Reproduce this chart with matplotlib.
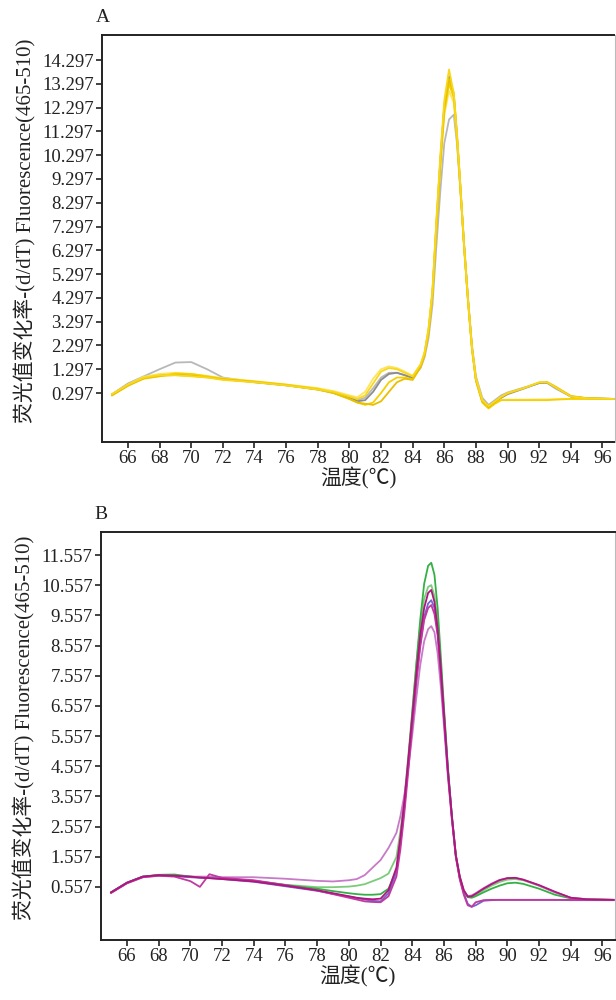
import matplotlib
matplotlib.use("Agg")
import matplotlib.pyplot as plt

plt.rcParams['font.family'] = ['Liberation Serif', 'Noto Sans CJK SC', 'DejaVu Sans']
plt.rcParams['axes.unicode_minus'] = False

# ---------------- Panel A data ----------------
TA = [65, 66, 67, 68, 69, 70, 71, 72, 74, 76, 78, 79, 80,
      80.5, 81, 81.5, 82, 82.5, 83, 83.5, 84,
      84.5, 84.75, 85, 85.25, 85.5, 85.75, 86,
      86.3, 86.6, 86.8, 87, 87.25, 87.5, 87.75, 88,
      88.4, 88.8, 89.2, 89.6, 90,
      91, 92, 92.5, 93, 94, 95, 96.7]

A1 = [0.25, 0.65, 0.95, 1.05, 1.05, 1.0, 0.95, 0.85, 0.75, 0.62, 0.45, 0.35, 0.15,
      0.05, 0.2, 0.7, 1.2, 1.35, 1.3, 1.15, 1.0,
      1.5, 2.0, 3.0, 4.6, 7.6, 10.3, 12.6,
      13.9, 12.9, 11.2, 9.2, 6.5, 4.2, 2.2, 0.9,
      0.0, -0.25, -0.05, 0.15, 0.3,
      0.5, 0.75, 0.75, 0.55, 0.15, 0.08, 0.05]
A2 = [0.22, 0.62, 0.9, 1.0, 1.12, 1.1, 1.0, 0.9, 0.78, 0.65, 0.48, 0.3, 0.05,
      -0.1, -0.2, -0.1, 0.3, 0.75, 0.95, 0.95, 0.88,
      1.4, 1.9, 2.8, 4.4, 7.2, 9.8, 12.1,
      13.3, 12.7, 11.0, 9.0, 6.4, 4.1, 2.1, 0.8,
      -0.1, -0.35, -0.15, 0.0, 0.0,
      0.0, 0.0, 0.0, 0.02, 0.05, 0.05, 0.05]
A3 = [0.25, 0.7, 1.0, 1.3, 1.58, 1.6, 1.3, 0.95, 0.75, 0.62, 0.45, 0.3, 0.1,
      0.0, 0.1, 0.5, 0.95, 1.15, 1.15, 1.05, 0.95,
      1.35, 1.8, 2.6, 4.0, 6.5, 8.8, 10.8,
      11.8, 12.0, 10.8, 9.0, 6.6, 4.3, 2.3, 1.0,
      0.1, -0.2, 0.0, 0.2, 0.32,
      0.52, 0.72, 0.72, 0.5, 0.15, 0.08, 0.05]
A4 = [0.24, 0.66, 0.95, 1.05, 1.1, 1.05, 0.98, 0.88, 0.76, 0.63, 0.46, 0.33, 0.1,
      -0.05, 0.0, 0.35, 0.85, 1.1, 1.15, 1.05, 0.92,
      1.45, 1.95, 2.9, 4.5, 7.4, 10.1, 12.4,
      13.6, 12.8, 11.1, 9.1, 6.5, 4.2, 2.2, 0.85,
      -0.05, -0.3, -0.1, 0.1, 0.25,
      0.48, 0.72, 0.74, 0.55, 0.15, 0.08, 0.05]
A5 = [0.2, 0.6, 0.92, 1.02, 1.05, 1.02, 0.96, 0.88, 0.77, 0.63, 0.44, 0.3, 0.05,
      -0.1, -0.15, -0.2, -0.05, 0.35, 0.75, 0.9, 0.85,
      1.4, 1.9, 2.85, 4.45, 7.3, 10.0, 12.3,
      13.5, 12.9, 11.2, 9.2, 6.5, 4.2, 2.2, 0.85,
      -0.05, -0.3, -0.1, 0.12, 0.28,
      0.5, 0.74, 0.76, 0.58, 0.18, 0.08, 0.05]
A6 = [0.25, 0.66, 0.98, 1.1, 1.15, 1.1, 1.02, 0.92, 0.8, 0.66, 0.5, 0.38, 0.2,
      0.12, 0.35, 0.9, 1.3, 1.42, 1.35, 1.2, 1.02,
      1.5, 2.0, 3.0, 4.6, 7.5, 10.0, 12.0,
      13.0, 12.5, 11.0, 9.1, 6.5, 4.2, 2.2, 0.9,
      0.0, -0.3, -0.1, 0.0, 0.02,
      0.02, 0.03, 0.03, 0.04, 0.05, 0.05, 0.05]

A_series = [A3, A4, A6, A2, A5, A1]
A_colors = ['#B8B8B8', '#8C8C8C', '#FFE45C', '#F5D000', '#E8C000', '#F8D81A']
A_ticks = [0.297 + k for k in range(15)]

# ---------------- Panel B data ----------------
TB = [65, 66, 67, 68, 69, 70, 70.6, 71.2, 72, 74, 76, 78, 79, 80,
      80.5, 81, 81.5, 82, 82.5, 83,
      83.25, 83.5, 83.75, 84, 84.25, 84.5, 84.75, 85,
      85.2, 85.4, 85.6, 85.8, 86,
      86.25, 86.5, 86.75, 87, 87.25, 87.5, 87.75, 88,
      88.5, 89, 89.5, 90, 90.5, 91,
      92, 93, 94, 95, 96.7]

B1 = [0.38, 0.7, 0.9, 0.95, 0.93, 0.9, 0.87, 0.85, 0.82, 0.74, 0.6, 0.45, 0.35, 0.25,
      0.2, 0.17, 0.15, 0.17, 0.45, 1.2,
      2.2, 3.4, 4.8, 6.2, 7.6, 8.9, 9.8, 10.3,
      10.4, 10.0, 9.1, 7.8, 6.3,
      4.4, 2.9, 1.6, 0.9, 0.45, 0.24, 0.25, 0.33,
      0.5, 0.65, 0.78, 0.85, 0.86, 0.8,
      0.62, 0.4, 0.2, 0.15, 0.13]
B2 = [0.38, 0.7, 0.9, 0.96, 0.97, 0.9, 0.88, 0.86, 0.84, 0.76, 0.62, 0.5, 0.42, 0.35,
      0.32, 0.3, 0.3, 0.32, 0.5, 1.1,
      2.0, 3.2, 4.7, 6.3, 7.9, 9.4, 10.6, 11.2,
      11.3, 10.9, 9.8, 8.2, 6.5,
      4.5, 2.9, 1.6, 0.85, 0.4, 0.22, 0.2, 0.25,
      0.38, 0.5, 0.6, 0.68, 0.7, 0.66,
      0.5, 0.3, 0.18, 0.14, 0.13]
B3 = [0.37, 0.69, 0.9, 0.95, 0.94, 0.9, 0.88, 0.86, 0.84, 0.76, 0.63, 0.55, 0.55, 0.57,
      0.6, 0.65, 0.75, 0.85, 1.0, 1.55,
      2.4, 3.5, 4.9, 6.4, 7.9, 9.2, 10.1, 10.5,
      10.56, 10.2, 9.3, 7.9, 6.4,
      4.5, 2.9, 1.6, 0.9, 0.45, 0.24, 0.22, 0.28,
      0.45, 0.6, 0.72, 0.8, 0.82, 0.78,
      0.6, 0.38, 0.2, 0.15, 0.13]
B4 = [0.38, 0.7, 0.9, 0.94, 0.92, 0.88, 0.86, 0.85, 0.82, 0.73, 0.58, 0.43, 0.33, 0.24,
      0.19, 0.14, 0.1, 0.08, 0.35, 1.05,
      2.0, 3.2, 4.6, 6.0, 7.4, 8.6, 9.5, 9.95,
      10.06, 9.8, 9.0, 7.7, 6.2,
      4.4, 2.9, 1.6, 0.85, 0.35, 0.0, -0.1, -0.05,
      0.1, 0.12, 0.13, 0.13, 0.13, 0.13,
      0.13, 0.13, 0.12, 0.12, 0.12]
B5 = [0.37, 0.68, 0.88, 0.93, 0.92, 0.9, 0.9, 0.9, 0.88, 0.88, 0.83, 0.76, 0.74, 0.78,
      0.82, 0.95, 1.2, 1.45, 1.85, 2.35,
      2.9, 3.6, 4.5, 5.6, 6.8, 7.9, 8.7, 9.1,
      9.2, 9.0, 8.3, 7.2, 5.9,
      4.2, 2.8, 1.55, 0.85, 0.4, 0.25, 0.28, 0.35,
      0.52, 0.67, 0.79, 0.85, 0.86, 0.8,
      0.6, 0.38, 0.2, 0.15, 0.13]
B6 = [0.36, 0.68, 0.88, 0.93, 0.9, 0.75, 0.56, 0.98, 0.86, 0.78, 0.62, 0.44, 0.32, 0.2,
      0.14, 0.08, 0.06, 0.05, 0.25, 0.9,
      1.8, 3.0, 4.4, 5.9, 7.3, 8.5, 9.4, 9.8,
      9.9, 9.6, 8.9, 7.6, 6.1,
      4.3, 2.8, 1.55, 0.8, 0.3, -0.05, -0.1, 0.05,
      0.12, 0.13, 0.13, 0.13, 0.13, 0.13,
      0.13, 0.13, 0.13, 0.13, 0.13]

B_series = [B3, B2, B5, B4, B6, B1]
B_colors = ['#7CCB7C', '#35B044', '#C77AC7', '#7466D0', '#C03AA0', '#B0157E']
B_ticks = [0.557 + k for k in range(12)]

x_ticks = list(range(66, 97, 2))
ylabel = '荧光值变化率-(d/dT) Fluorescence(465-510)'
xlabel = '温度(℃)'

fig = plt.figure(figsize=(6.16, 10.0), dpi=100)
axA = fig.add_axes([102/616, 1-442/1000, (614.5-102)/616, (442-35)/1000])
axB = fig.add_axes([101/616, 1-940/1000, (614.5-101)/616, (940-532)/1000])


def style(ax, T, series, colors, ticks, ylim, letter):
    for s, c in zip(series, colors):
        ax.plot(T, s, color=c, lw=1.3, solid_joinstyle='round')
    ax.set_xlim(64.36, 96.76)
    ax.set_ylim(*ylim)
    ax.set_xticks(x_ticks)
    ax.set_xticklabels([str(t) for t in x_ticks], fontsize=13.5)
    ax.set_yticks(ticks)
    ax.set_yticklabels(['%.3f' % t for t in ticks], fontsize=13.5)
    ax.tick_params(direction='out', length=4, width=1.2, pad=2, colors='#222222')
    for side in ['left', 'bottom', 'top']:
        ax.spines[side].set_linewidth(1.4)
        ax.spines[side].set_color('#222222')
    ax.spines['right'].set_linewidth(0.8)
    ax.spines['right'].set_color('#BBBBBB')
    ax.set_xlabel(xlabel, fontsize=15, labelpad=0, color='#222222')
    ax.set_ylabel(ylabel, fontsize=15, labelpad=1, color='#222222')
    ax.yaxis.set_label_coords(-0.128, 0.52)
    ax.text(-0.012, 1.022, letter, transform=ax.transAxes, fontsize=14,
            ha='left', va='bottom', color='#222222')


style(axA, TA, A_series, A_colors, A_ticks, (-1.76, 15.35), 'A')
style(axB, TB, B_series, B_colors, B_ticks, (-1.2, 12.32), 'B')

fig.savefig('out.png', dpi=100)
